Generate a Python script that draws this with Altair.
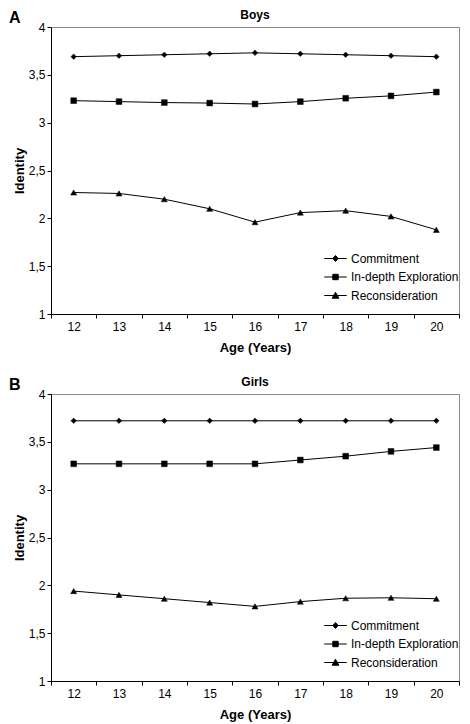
import altair as alt
import pandas as pd

ages = [12, 13, 14, 15, 16, 17, 18, 19, 20]
series = ["Commitment", "In-depth Exploration", "Reconsideration"]

boys_commitment = [3.69, 3.70, 3.71, 3.72, 3.73, 3.72, 3.71, 3.70, 3.69]
boys_exploration = [3.23, 3.22, 3.21, 3.205, 3.195, 3.22, 3.255, 3.28, 3.32]
boys_reconsideration = [2.27, 2.26, 2.20, 2.10, 1.96, 2.06, 2.08, 2.02, 1.88]

girls_commitment = [3.72, 3.72, 3.72, 3.72, 3.72, 3.72, 3.72, 3.72, 3.72]
girls_exploration = [3.27, 3.27, 3.27, 3.27, 3.27, 3.31, 3.35, 3.40, 3.44]
girls_reconsideration = [1.94, 1.90, 1.86, 1.82, 1.78, 1.83, 1.865, 1.87, 1.86]

y_ticks = [1, 1.5, 2, 2.5, 3, 3.5, 4]

point_shapes = ["diamond", "square", "triangle-up"]
legend_shapes = [
    "M-1.25,0H1.25M0,-0.33L0.3,0L0,0.33L-0.3,0Z",
    "M-1.25,0H1.25M-0.3,-0.3H0.3V0.3H-0.3Z",
    "M-1.25,0H1.25M0,-0.36L0.38,0.3H-0.38Z",
]

FONT = "Liberation Sans"
W = 408
H = 287


def build_df(c, e, r):
    rows = []
    for name, vals in zip(series, [c, e, r]):
        for a, v in zip(ages, vals):
            rows.append({"age": a, "series": name, "value": v})
    return pd.DataFrame(rows)


def panel(df, title, letter):
    base = alt.Chart(df)
    x = alt.X(
        "age:O",
        bandPosition=0.5,
        scale=alt.Scale(type="band", paddingInner=0, paddingOuter=0),
        axis=alt.Axis(
            title="Age (Years)",
            labelAngle=0,
            tickBand="extent",
            tickSize=4,
            labelPadding=3,
            titlePadding=9,
        ),
    )
    y = alt.Y(
        "value:Q",
        scale=alt.Scale(domain=[1, 4], nice=False, zero=False),
        axis=alt.Axis(
            title="Identity",
            values=y_ticks,
            labelExpr="replace(format(datum.value, '~g'), '.', ',')",
            tickSize=4,
            labelPadding=2,
            titlePadding=2,
        ),
    )
    line = base.mark_line(color="black", strokeWidth=1).encode(
        x=x, y=y, detail="series:N"
    )
    pts = base.mark_point(
        filled=True, fill="black", stroke="black", strokeWidth=0.5, opacity=1
    ).encode(
        x=x,
        y=y,
        shape=alt.Shape(
            "series:N",
            scale=alt.Scale(domain=series, range=point_shapes),
            legend=None,
        ),
        size=alt.Size(
            "series:N",
            scale=alt.Scale(domain=series, range=[30, 36, 45]),
            legend=None,
        ),
    )
    leg = (
        base.transform_filter("false")
        .mark_point(filled=True, fill="black", stroke="black", strokeWidth=1, opacity=1)
        .encode(
            x=x,
            y=y,
            shape=alt.Shape(
                "series:N",
                scale=alt.Scale(domain=series, range=legend_shapes),
                legend=alt.Legend(
                    title=None,
                    orient="none",
                    legendX=275,
                    legendY=222,
                    padding=0,
                    rowPadding=2.5,
                    symbolSize=324,
                    symbolStrokeWidth=1,
                    labelOffset=6,
                    labelFont=FONT,
                    labelFontSize=12,
                    labelColor="black",
                ),
            ),
        )
    )
    lab = (
        alt.Chart(pd.DataFrame({"lbl": [letter]}))
        .mark_text(
            font=FONT, fontSize=16, fontWeight="bold", align="left",
            baseline="alphabetic", color="black",
        )
        .encode(text="lbl:N", x=alt.value(-42), y=alt.value(-4))
    )
    ttl = (
        alt.Chart(pd.DataFrame({"ttl": [title]}))
        .mark_text(
            font=FONT, fontSize=12, fontWeight="bold", align="center",
            baseline="middle", color="black",
        )
        .encode(text="ttl:N", x=alt.value(W / 2), y=alt.value(-12))
    )
    return (
        alt.layer(line, pts, leg, lab, ttl)
        .resolve_scale(shape="independent", size="independent")
        .properties(width=W, height=H)
    )


boys = panel(build_df(boys_commitment, boys_exploration, boys_reconsideration), "Boys", "A")
girls = panel(build_df(girls_commitment, girls_exploration, girls_reconsideration), "Girls", "B")

chart = (
    alt.vconcat(boys, girls, spacing=20)
    .properties(padding=0)
    .configure_view(stroke="#8a8a8a", strokeWidth=1)
    .configure_axis(
        grid=False,
        domainColor="black",
        tickColor="black",
        labelFont=FONT,
        labelFontSize=12,
        labelColor="black",
        titleFont=FONT,
        titleFontSize=13,
        titleFontWeight="bold",
        titleColor="black",
    )
)

chart.save("out.html", embed_options={"renderer": "svg", "actions": False})
